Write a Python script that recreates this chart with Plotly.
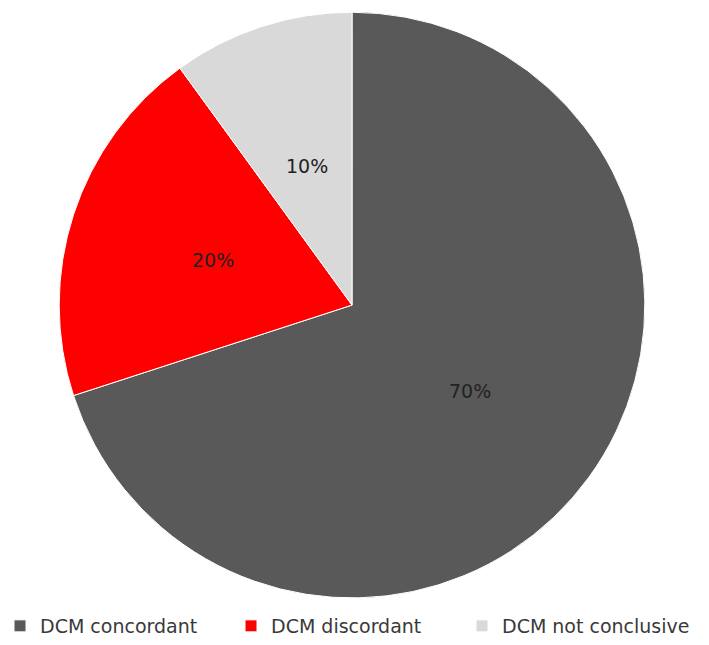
import math
import plotly.graph_objects as go

labels = ["DCM concordant", "DCM discordant", "DCM not conclusive"]
values = [70, 20, 10]
colors = ["#595959", "#FF0000", "#D9D9D9"]

dom_x = [0.083, 0.91]
dom_y = [0.073, 0.981]
W, H = 709, 645

fig = go.Figure(go.Pie(
    labels=labels,
    values=values,
    sort=False,
    direction="clockwise",
    rotation=0,
    marker=dict(colors=colors, line=dict(color="#FFFFFF", width=1)),
    textinfo="none",
    domain=dict(x=dom_x, y=dom_y),
    hoverinfo="label+percent",
))

# data labels at half radius along each slice's mid-angle (Excel-style)
cx = (dom_x[0] + dom_x[1]) / 2
cy = (dom_y[0] + dom_y[1]) / 2
r_px = min((dom_x[1] - dom_x[0]) * W, (dom_y[1] - dom_y[0]) * H) / 2
total = sum(values)
start = 0.0
for v in values:
    mid = (start + v / 2) / total * 2 * math.pi
    start += v
    dx = 0.5 * r_px * math.sin(mid)
    dy = 0.5 * r_px * math.cos(mid)
    fig.add_annotation(
        x=cx + dx / W, y=cy + dy / H, xref="paper", yref="paper",
        xanchor="center", yanchor="middle",
        text=f"{round(100 * v / total)}%", showarrow=False,
        font=dict(family="DejaVu Sans, sans-serif", size=19, color="#222222"),
    )

fig.update_layout(
    width=W, height=H,
    margin=dict(l=0, r=0, t=0, b=0),
    paper_bgcolor="white",
    plot_bgcolor="white",
    showlegend=True,
    legend=dict(
        orientation="h",
        x=0.0, xanchor="left",
        y=0.0, yanchor="bottom",
        font=dict(family="DejaVu Sans, sans-serif", size=19, color="#3a3a3a"),
        itemwidth=30,
        entrywidth=186,
        tracegroupgap=0,
    ),
)

fig.write_html("out.html")
